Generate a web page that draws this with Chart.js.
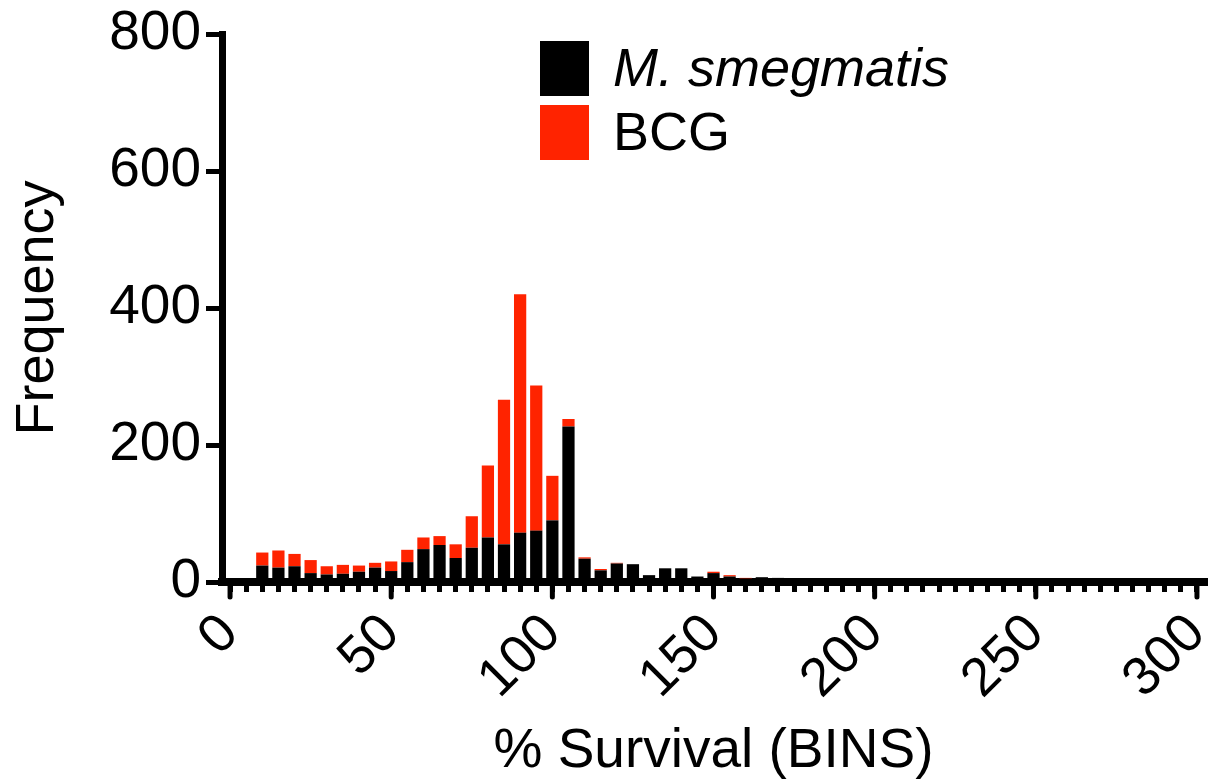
<!DOCTYPE html>
<html>
<head>
<meta charset="utf-8">
<script src="https://cdn.jsdelivr.net/npm/chart.js@4.4.1/dist/chart.umd.min.js"></script>
<style>
  html, body { margin: 0; padding: 0; background: #fff; }
  #wrap { width: 1215px; height: 779px; position: relative; }
</style>
</head>
<body>
<div id="wrap"><canvas id="histChart"></canvas></div>
<script>
// histogram bins (% survival), 5-wide
const bins = [0, 5, 10, 15, 20, 25, 30, 35, 40, 45, 50, 55, 60, 65, 70, 75, 80, 85, 90, 95,
  100, 105, 110, 115, 120, 125, 130, 135, 140, 145, 150, 155, 160, 165, 170, 175, 180, 185, 190, 195,
  200, 205, 210, 215, 220, 225, 230, 235, 240, 245, 250, 255, 260, 265, 270, 275, 280, 285, 290, 295, 300];

// M. smegmatis counts (black, bottom of stack)
const smegCounts = [0, 0, 24, 21, 23, 13, 11, 12, 15, 21, 16, 29, 48, 54, 35, 50, 65, 55, 72, 75,
  90, 227, 34, 17, 27, 26, 10, 20, 20, 8, 13, 8, 5, 7, 6, 3, 2, 1, 2, 1,
  1, 1, 0, 1, 0, 0, 1, 0, 0, 0, 1, 0, 0, 0, 0, 0, 0, 0, 0, 0, 0];

// BCG counts (red, stacked on top)
const bcgCounts = [0, 0, 19, 25, 18, 19, 12, 13, 9, 7, 14, 18, 17, 13, 20, 46, 105, 211, 348, 212,
  65, 11, 2, 2, 1, 0, 0, 0, 0, 0, 2, 2, 1, 0, 0, 0, 0, 0, 0, 0,
  0, 0, 0, 0, 0, 0, 0, 0, 0, 0, 0, 0, 0, 0, 0, 0, 0, 0, 0, 0, 0];

const yTicks = [0, 200, 400, 600, 800];
const xLabelEvery = 50;

Chart.defaults.font.family = "'Liberation Sans', Arial, Helvetica, sans-serif";
Chart.defaults.color = '#000';

// longer tick marks at the labelled bins
const majorTicks = {
  id: 'majorTicks',
  afterDraw(chart) {
    const xs = chart.scales.x;
    const ctx = chart.ctx;
    const y0 = chart.chartArea.bottom;
    ctx.save();
    ctx.strokeStyle = '#000';
    ctx.lineWidth = 5;
    ctx.lineCap = 'round';
    bins.forEach((b, i) => {
      if (b % xLabelEvery === 0) {
        const x = xs.getPixelForTick(i);
        ctx.beginPath();
        ctx.moveTo(x, y0);
        ctx.lineTo(x, y0 + 15);
        ctx.stroke();
      }
    });
    ctx.restore();
  }
};

// legend: squares stacked vertically, species name in italics
const boxLegend = {
  id: 'boxLegend',
  afterDraw(chart) {
    const ctx = chart.ctx;
    ctx.save();
    chart.data.datasets.forEach((ds, i) => {
      const top = 41 + i * 64;
      ctx.fillStyle = ds.backgroundColor;
      ctx.fillRect(540, top, 49, 55);
      ctx.fillStyle = '#000';
      ctx.textBaseline = 'alphabetic';
      ctx.textAlign = 'left';
      ctx.font = (ds.italic ? 'italic ' : '') + "54px 'Liberation Sans', Arial, sans-serif";
      ctx.fillText(ds.label, 613, top + 45);
    });
    ctx.restore();
  }
};

const ctx = document.getElementById('histChart');
let histChart = new Chart(ctx, {
  type: 'bar',
  data: {
    labels: bins,
    datasets: [{
      label: 'M. smegmatis',
      italic: true,
      data: smegCounts,
      backgroundColor: '#000000',
      barPercentage: 0.76,
      categoryPercentage: 1.0
    }, {
      label: 'BCG',
      data: bcgCounts,
      backgroundColor: '#ff2300',
      barPercentage: 0.76,
      categoryPercentage: 1.0
    }]
  },
  options: {
    responsive: true,
    maintainAspectRatio: false,
    animation: false,
    layout: { padding: { top: 34, right: 10, left: 0, bottom: 0 } },
    plugins: {
      legend: { display: false },
      tooltip: { enabled: false }
    },
    scales: {
      x: {
        stacked: true,
        offset: true,
        afterFit: s => { s.height = 197; s.paddingRight = 0; s.paddingLeft = 0; },
        grid: {
          offset: false,
          drawOnChartArea: false,
          drawTicks: true,
          tickLength: 10,
          lineWidth: 5,
          color: '#000'
        },
        border: { display: true, width: 8, color: '#000' },
        ticks: {
          autoSkip: false,
          minRotation: 45,
          maxRotation: 45,
          padding: 10,
          font: { size: 54 },
          callback: function(val, i) {
            return bins[i] % xLabelEvery === 0 ? String(bins[i]) : '';
          }
        },
        title: {
          display: true,
          text: '% Survival (BINS)',
          font: { size: 55, lineHeight: 1 },
          padding: { top: 0, bottom: 0 }
        }
      },
      y: {
        stacked: true,
        min: yTicks[0],
        max: yTicks[yTicks.length - 1],
        afterFit: s => { s.width = 222; },
        grid: {
          drawOnChartArea: false,
          drawTicks: true,
          tickLength: 16,
          lineWidth: 5,
          color: '#000'
        },
        border: { display: true, width: 7, color: '#000' },
        ticks: {
          stepSize: 200,
          padding: 5,
          font: { size: 55, lineHeight: 1 }
        },
        title: {
          display: true,
          text: 'Frequency',
          font: { size: 54, lineHeight: 1 },
          padding: { top: 11, bottom: 0 }
        }
      }
    }
  },
  plugins: [majorTicks, boxLegend]
});
</script>
</body>
</html>
